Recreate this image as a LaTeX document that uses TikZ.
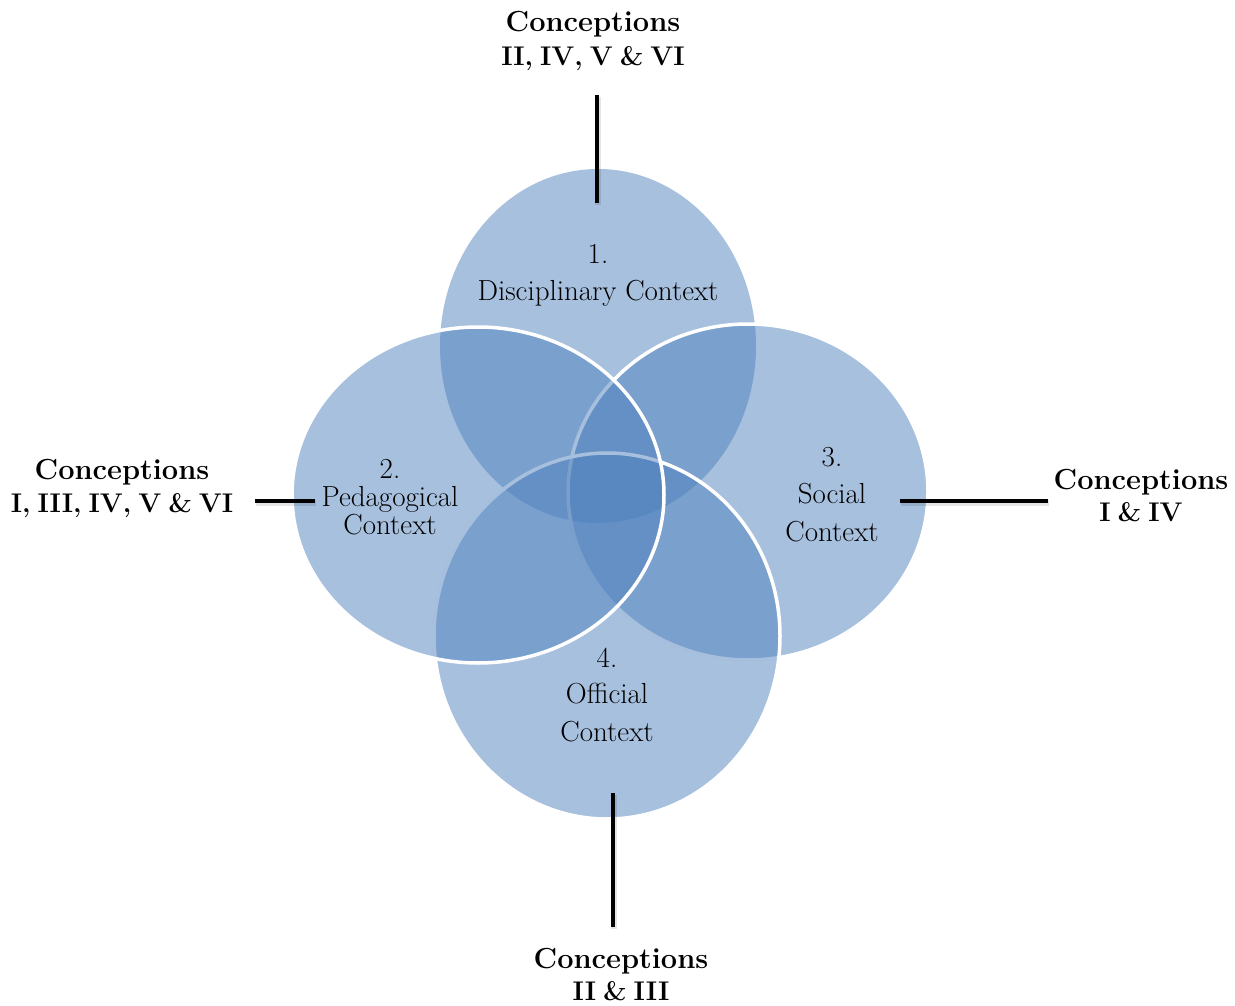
\documentclass[tikz,border=0pt]{standalone}
\usetikzlibrary{shapes.geometric}
\definecolor{ctxblue}{HTML}{4F81BD}
\newcommand\tightwords{\spaceskip=7pt plus 1pt\relax}
\begin{document}
\begin{tikzpicture}[x=1pt,y=-1pt,
  ctx/.style={ellipse, inner sep=0pt, outer sep=0pt, fill=ctxblue, fill opacity=0.5},
  rim/.style={draw=white, line width=3.5pt},
  lbl/.style={font=\fontsize{29}{33}\selectfont, anchor=base, inner sep=0pt},
  concept/.style={font=\fontsize{29}{33}\selectfont\bfseries, anchor=base, inner sep=0pt},
  numerals/.style={font=\fontsize{27}{32}\selectfont\bfseries\tightwords, anchor=base, inner sep=0pt},
  tick/.style={line width=4.5pt, black},
  tickshadow/.style={line width=6pt, black, opacity=0.1}]
\useasboundingbox (0,0) rectangle (1235,1006);

% the four context ellipses, layered
\node[ctx, minimum width=316pt, minimum height=354pt] (e1) at (598,346) {};
\node[ctx, rim, minimum width=360pt, minimum height=336pt] (e3) at (748,492) {};
\node[ctx, rim, minimum width=346pt, minimum height=366pt] (e4) at (607,636) {};
\node[ctx, rim, minimum width=372pt, minimum height=336pt] (e2) at (478,495) {};

% context labels
\node[lbl] (n1) at (598,263) {1.};
\node[lbl] (d1) at (598,300) {Disciplinary Context};
\node[lbl] (n2) at (390,478) {2.};
\node[lbl] (d2a) at (390,506) {Pedagogical};
\node[lbl] (d2b) at (390,534) {Context};
\node[lbl] (n3) at (832,466) {3.};
\node[lbl] (d3a) at (832,503) {Social};
\node[lbl] (d3b) at (832,541) {Context};
\node[lbl] (n4) at (607,667) {4.};
\node[lbl] (d4a) at (607,703) {Official};
\node[lbl] (d4b) at (607,741) {Context};

% conception labels
\node[concept] (ctop) at (593,32) {Conceptions};
\node[numerals] (ctopb) at (593,66) {II, IV, V \& VI};
\node[concept] (cleft) at (122,479) {Conceptions};
\node[numerals] (cleftb) at (122,512) {I, III, IV, V \& VI};
\node[concept] (cright) at (1141,489) {Conceptions};
\node[numerals] (crightb) at (1141,521) {I \& IV};
\node[concept] (cbot) at (621,968) {Conceptions};
\node[numerals] (cbotb) at (621,1000) {II \& III};

% tick lines joining labels to ellipses
\coordinate (tA) at (597,95);   \coordinate (tB) at (597,203);
\coordinate (lA) at (255,501);  \coordinate (lB) at (315,501);
\coordinate (rA) at (900,501);  \coordinate (rB) at (1048,501);
\coordinate (bA) at (613,793);  \coordinate (bB) at (613,927);

\foreach \a/\b in {tA/tB, lA/lB, rA/rB, bA/bB}{
  \draw[tickshadow] ([shift={(1,2)}]\a) -- ([shift={(1,2)}]\b);
  \draw[tick] (\a) -- (\b);
}
\end{tikzpicture}
\end{document}
